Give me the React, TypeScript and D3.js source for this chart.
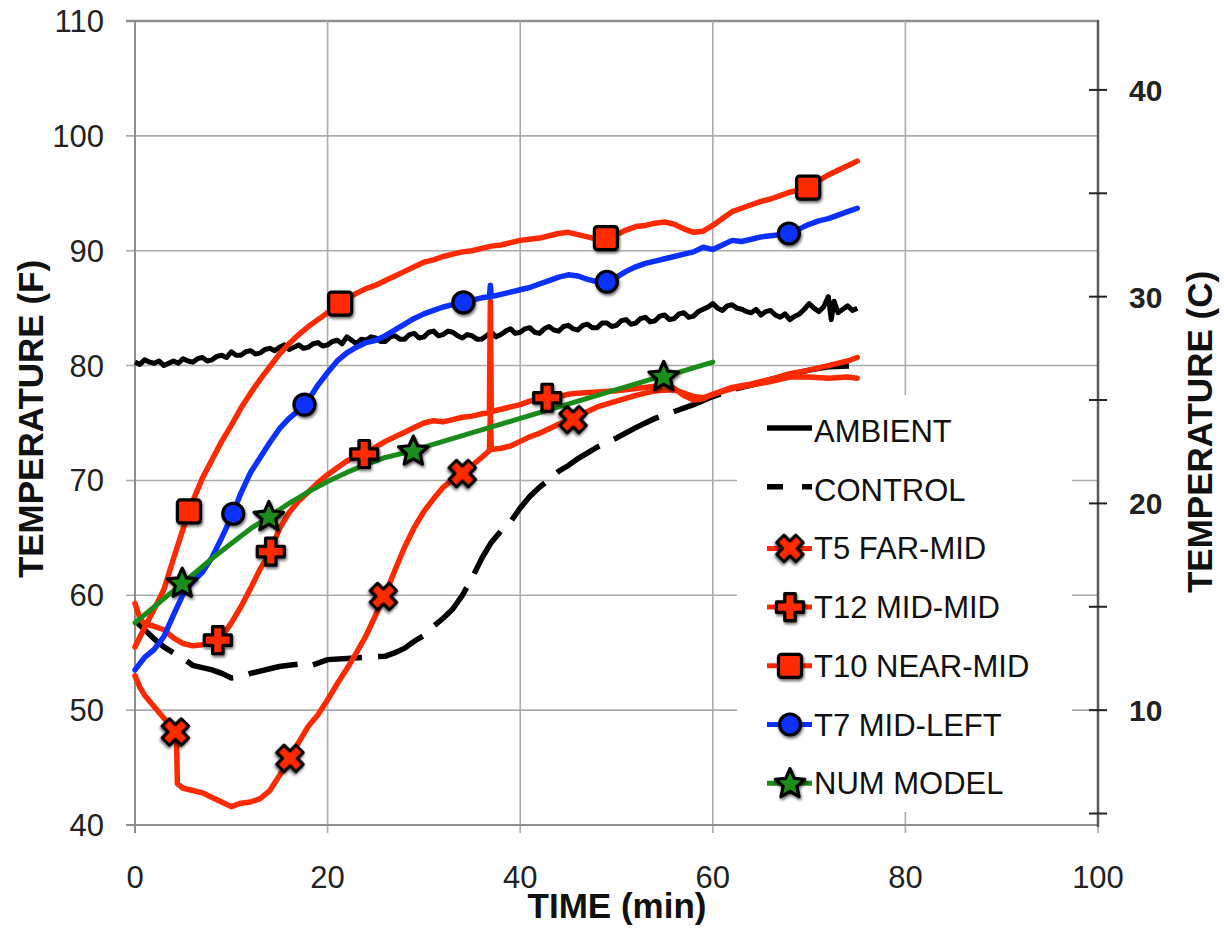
import React from 'react';
import * as d3 from 'd3';

const W = 1224;
const H = 931;

// ---------- axis ticks ----------
const xTicks = [0, 20, 40, 60, 80, 100];
const yTicks = [40, 50, 60, 70, 80, 90, 100, 110];
const cTicks = [5, 10, 15, 20, 25, 30, 35, 40];
const cLabels = [10, 20, 30, 40];

// ---------- series (time min, temperature F) ----------
const ambient: [number, number][] = [
  [0, 80.3], [0.5, 80.1], [1, 80.5], [1.5, 80.3], [2, 80.2], [2.5, 80.4], [3, 80.0], [3.5, 80.2], [4, 80.4], [4.5, 80.2],
  [5, 80.6], [5.5, 80.4], [6, 80.3], [6.5, 80.6], [7, 80.7], [7.5, 80.4], [8, 80.5], [8.5, 80.8], [9, 80.9], [9.5, 80.7],
  [10, 81.2], [10.5, 80.9], [11, 80.9], [11.5, 81.2], [12, 81.3], [12.5, 81.0], [13, 81.1], [13.5, 81.4], [14, 81.5], [14.5, 81.3],
  [15, 81.6], [15.5, 81.8], [16, 81.4], [16.5, 81.6], [17, 81.8], [17.5, 81.5], [18, 81.6], [18.5, 81.9], [19, 82.0], [19.5, 81.7],
  [20, 81.8], [20.5, 82.1], [21, 82.2], [21.5, 81.9], [22, 82.5], [22.5, 82.2], [23, 81.9], [23.5, 82.3], [24, 82.2], [24.5, 82.5],
  [25, 82.4], [25.5, 82.1], [26, 82.1], [26.5, 82.5], [27, 82.6], [27.5, 82.3], [28, 82.3], [28.5, 82.7], [29, 82.8], [29.5, 82.4],
  [30, 82.5], [30.5, 82.9], [31, 83.0], [31.5, 82.6], [32, 82.7], [32.5, 83.0], [33, 82.9], [33.5, 82.6], [34, 82.4], [34.5, 82.7],
  [35, 82.6], [35.5, 82.3], [36, 82.3], [36.5, 82.6], [37, 82.9], [37.5, 82.5], [38, 82.7], [38.5, 83.0], [39, 83.2], [39.5, 82.8],
  [40, 82.9], [40.5, 83.2], [41, 83.3], [41.5, 82.9], [42, 82.8], [42.5, 83.2], [43, 83.4], [43.5, 83.1], [44, 83.0], [44.5, 83.4],
  [45, 83.5], [45.5, 83.2], [46, 83.1], [46.5, 83.5], [47, 83.6], [47.5, 83.3], [48, 83.3], [48.5, 83.7], [49, 83.7], [49.5, 83.4],
  [50, 83.5], [50.5, 83.9], [51, 84.0], [51.5, 83.6], [52, 83.7], [52.5, 84.1], [53, 84.2], [53.5, 83.8], [54, 83.9], [54.5, 84.3],
  [55, 84.4], [55.5, 84.0], [56, 84.1], [56.5, 84.5], [57, 84.6], [57.5, 84.2], [58, 84.3], [58.5, 84.7], [59, 84.9], [59.5, 85.1],
  [60, 85.4], [60.5, 85.0], [61, 84.8], [61.5, 85.2], [62, 85.3], [62.5, 85.0], [63, 84.9], [63.5, 84.7], [64, 84.6], [64.5, 84.9],
  [65, 84.4], [65.5, 84.7], [66, 84.8], [66.5, 84.4], [67, 84.2], [67.5, 84.5], [68, 84.0], [68.5, 84.3], [69, 84.5], [69.5, 84.9],
  [70, 85.4], [70.5, 85.0], [71, 84.7], [71.5, 85.1], [72, 86.0], [72.3, 84.0], [72.6, 85.6], [73, 84.6], [73.5, 84.9], [74, 85.2],
  [74.5, 84.8], [75, 85.0],
];

const control: [number, number][] = [
  [0, 57.8], [1, 57.0], [2, 56.2], [3, 55.5], [4, 55.0], [5, 54.5], [6, 53.9], [7, 53.7], [8, 53.5], [9, 53.2],
  [10, 52.8], [11, 52.9], [12, 53.2], [13, 53.4], [14, 53.6], [15, 53.8], [16, 53.9], [17, 54.0], [18, 53.8], [19, 54.1],
  [20, 54.4], [22, 54.5], [24, 54.6], [26, 54.7], [27, 55.0], [28, 55.4], [29, 56.0], [30, 56.5], [31, 57.3], [32, 58.0],
  [33, 58.8], [34, 60.0], [35, 61.5], [36, 63.2], [37, 64.6], [38, 65.6], [39, 66.4], [40, 67.6], [41, 68.6], [42, 69.4],
  [43, 70.1], [44, 70.8], [45, 71.3], [46, 71.9], [47, 72.4], [48, 72.9], [49, 73.3], [50, 73.7], [52, 74.6], [54, 75.4],
  [56, 76.0], [58, 76.6], [60, 77.3], [62, 77.9], [64, 78.3], [66, 78.8], [68, 79.2], [70, 79.6], [72, 79.9], [75, 80.0],
];

const t5: [number, number][] = [
  [0, 53.0], [0.5, 52.0], [1, 51.3], [2, 50.3], [3, 49.3], [4, 48.4], [4.3, 47.6], [4.4, 43.6], [5, 43.2], [6, 43.0],
  [7, 42.8], [8, 42.4], [9, 42.0], [10, 41.6], [11, 41.9], [12, 42.0], [13, 42.3], [14, 43.0], [15, 44.3], [16, 45.7],
  [17, 47.2], [18, 48.6], [19, 49.6], [20, 50.9], [21, 52.3], [22, 53.6], [23, 55.0], [24, 56.5], [25, 58.3], [26, 60.1],
  [27, 62.2], [28, 64.2], [29, 65.9], [30, 67.3], [31, 68.4], [32, 69.4], [33, 70.1], [34, 70.6], [35, 71.3], [36, 72.0],
  [36.8, 72.6], [36.9, 75.9], [37, 72.7], [38, 72.8], [39, 73.0], [40, 73.4], [41, 73.8], [42, 74.1], [43, 74.5], [44, 74.9],
  [45, 75.2], [46, 75.6], [47, 76.0], [48, 76.4], [50, 76.9], [52, 77.4], [54, 77.8], [56, 77.9], [58, 77.3], [59, 77.2],
  [60, 77.5], [62, 78.0], [64, 78.3], [66, 78.6], [68, 79.0], [70, 79.0], [72, 78.9], [74, 79.0], [75, 78.9],
];

const t12: [number, number][] = [
  [0, 59.3], [0.5, 58.0], [1, 57.5], [2, 57.3], [3, 57.0], [4, 56.3], [5, 55.8], [6, 55.6], [7, 55.7], [8, 55.9],
  [8.6, 56.1], [9, 56.4], [10, 57.6], [11, 59.0], [12, 60.6], [13, 62.3], [14, 63.7], [15, 65.8], [16, 67.2], [17, 68.2],
  [18, 69.0], [19, 69.8], [20, 70.5], [21, 71.1], [22, 71.7], [23, 72.1], [24, 72.4], [25, 72.9], [26, 73.4], [27, 73.8],
  [28, 74.2], [29, 74.6], [30, 75.0], [31, 75.2], [32, 75.1], [33, 75.3], [34, 75.5], [35, 75.6], [36, 75.8], [36.8, 75.9],
  [36.9, 85.6], [37, 76.0], [38, 76.2], [39, 76.4], [40, 76.6], [41, 76.9], [42, 77.1], [43, 77.2], [44, 77.3], [45, 77.5],
  [46, 77.6], [48, 77.7], [50, 77.8], [52, 78.0], [54, 78.2], [55, 78.4], [56, 78.0], [57, 77.4], [58, 77.0], [59, 77.1],
  [60, 77.5], [62, 78.1], [64, 78.4], [66, 78.8], [68, 79.3], [70, 79.6], [72, 80.0], [74, 80.4], [75, 80.7],
];

const t10: [number, number][] = [
  [0, 55.5], [1, 57.2], [2, 58.8], [3, 60.5], [4, 63.2], [5, 65.8], [5.6, 67.3], [6, 68.2], [7, 70.2], [8, 71.8],
  [9, 73.4], [10, 74.8], [11, 76.3], [12, 77.6], [13, 78.8], [14, 79.9], [15, 81.0], [16, 81.9], [17, 82.7], [18, 83.4],
  [19, 84.0], [20, 84.6], [21, 85.2], [22, 85.8], [23, 86.3], [24, 86.7], [25, 87.0], [26, 87.4], [27, 87.8], [28, 88.2],
  [29, 88.6], [30, 89.0], [31, 89.2], [32, 89.5], [33, 89.7], [34, 89.9], [35, 90.0], [36, 90.2], [37, 90.4], [38, 90.5],
  [39, 90.7], [40, 90.9], [41, 91.0], [42, 91.1], [43, 91.3], [44, 91.5], [45, 91.6], [46, 91.4], [47, 91.2], [48, 91.0],
  [49, 91.1], [50, 91.4], [51, 91.8], [52, 92.1], [53, 92.2], [54, 92.4], [55, 92.5], [56, 92.3], [57, 91.9], [58, 91.6],
  [59, 91.7], [60, 92.2], [61, 92.8], [62, 93.4], [63, 93.7], [64, 94.0], [65, 94.3], [66, 94.5], [67, 94.8], [68, 95.1],
  [69, 95.3], [70, 95.6], [71, 96.1], [72, 96.6], [73, 97.0], [74, 97.4], [75, 97.8],
];

const t7: [number, number][] = [
  [0, 53.5], [1, 54.6], [2, 55.3], [3, 56.4], [4, 58.3], [5, 60.1], [6, 61.2], [7, 62.0], [8, 63.3], [9, 65.0],
  [10, 66.8], [11, 68.9], [12, 70.7], [13, 72.0], [14, 73.3], [15, 74.5], [16, 75.4], [17, 76.1], [18, 77.0], [19, 78.3],
  [20, 79.4], [21, 80.4], [22, 81.1], [23, 81.6], [24, 82.0], [25, 82.2], [26, 82.6], [27, 83.1], [28, 83.6], [29, 84.1],
  [30, 84.5], [31, 84.8], [32, 85.1], [33, 85.3], [34, 85.5], [35, 85.7], [36, 85.9], [36.8, 86.0], [36.9, 87.0], [37, 86.0],
  [38, 86.2], [39, 86.4], [40, 86.6], [41, 86.8], [42, 87.1], [43, 87.4], [44, 87.7], [45, 87.9], [46, 87.8], [47, 87.5],
  [48, 87.3], [49, 87.3], [50, 87.7], [51, 88.2], [52, 88.6], [53, 88.9], [54, 89.1], [55, 89.3], [56, 89.5], [57, 89.7],
  [58, 89.9], [59, 90.3], [60, 90.1], [61, 90.5], [62, 90.9], [63, 90.8], [64, 91.0], [65, 91.2], [66, 91.3], [67, 91.4],
  [68, 91.5], [69, 91.9], [70, 92.3], [71, 92.6], [72, 92.8], [73, 93.1], [74, 93.4], [75, 93.7],
];

const model: [number, number][] = [
  [0, 57.6], [2, 59.0], [4, 60.4], [5, 61.1], [6, 61.8], [8, 63.2], [10, 64.5], [12, 65.8], [14, 66.9], [16, 68.0],
  [18, 69.0], [20, 69.9], [22, 70.7], [24, 71.4], [26, 72.0], [28, 72.4], [29, 72.6], [30, 72.9], [32, 73.4], [34, 73.9],
  [36, 74.4], [38, 74.9], [40, 75.4], [42, 75.9], [44, 76.4], [46, 76.9], [48, 77.4], [50, 77.9], [52, 78.4], [54, 78.9],
  [55, 79.1], [56, 79.3], [58, 79.8], [60, 80.3],
];

// ---------- marker points ----------
const t5Markers: [number, number][] = [[4.2, 48.1], [16.1, 45.8], [25.8, 59.9], [34, 70.6], [45.5, 75.3]];
const t12Markers: [number, number][] = [[8.6, 56.1], [14.1, 63.8], [23.8, 72.3], [42.8, 77.2]];
const t10Markers: [number, number][] = [[5.6, 67.3], [21.3, 85.4], [48.9, 91.1], [69.9, 95.5]];
const t7Markers: [number, number][] = [[10.2, 67.1], [17.6, 76.6], [34.1, 85.5], [49, 87.3], [67.9, 91.5]];
const modelMarkers: [number, number][] = [[4.9, 61.1], [13.9, 66.9], [28.9, 72.6], [54.9, 79.1]];

const legendLabels = ['AMBIENT', 'CONTROL', 'T5 FAR-MID', 'T12 MID-MID', 'T10 NEAR-MID', 'T7 MID-LEFT', 'NUM MODEL'];

// ---------- style ----------
const RED = '#ff2a00';
const BLUE = '#0b30ff';
const GREEN = '#1b8c1b';
const GRID = '#ababab';
const FONT = '"Liberation Sans", Arial, Helvetica, sans-serif';

const x = d3.scaleLinear().domain([0, 100]).range([135, 1098]);
const y = d3.scaleLinear().domain([40, 110]).range([825, 21]);
const fToC = (f: number) => ((f - 32) * 5) / 9;
const c = d3.scaleLinear().domain([fToC(40), fToC(110)]).range([825, 21]);

const line = d3
  .line<[number, number]>()
  .x((d) => x(d[0]))
  .y((d) => y(d[1]));

const plusPath = (r: number, a: number) =>
  `M${-a},${-r}H${a}V${-a}H${r}V${a}H${a}V${r}H${-a}V${a}H${-r}V${-a}H${-a}Z`;

const starPath = (() => {
  const pts: [number, number][] = [];
  for (let k = 0; k < 10; k++) {
    const r = k % 2 === 0 ? 15.5 : 7.2;
    const a = (Math.PI / 5) * k - Math.PI / 2;
    pts.push([r * Math.cos(a), r * Math.sin(a)]);
  }
  return 'M' + pts.map((p) => p.join(',')).join('L') + 'Z';
})();

type Kind = 'x' | 'plus' | 'square' | 'circle' | 'star';

function Marker({ kind, cx, cy }: { kind: Kind; cx: number; cy: number }) {
  const common = { stroke: '#000', strokeWidth: 3.2, strokeLinejoin: 'round' as const, filter: 'url(#shadow)' };
  if (kind === 'x')
    return <path d={plusPath(13.5, 5.2)} transform={`translate(${cx},${cy}) rotate(45)`} fill={RED} {...common} />;
  if (kind === 'plus') return <path d={plusPath(13.5, 5.2)} transform={`translate(${cx},${cy})`} fill={RED} {...common} />;
  if (kind === 'square')
    return <rect x={cx - 11.5} y={cy - 11.5} width={23} height={23} rx={3} fill={RED} {...common} />;
  if (kind === 'circle') return <circle cx={cx} cy={cy} r={10.5} fill={BLUE} {...common} />;
  return <path d={starPath} transform={`translate(${cx},${cy + 1})`} fill={GREEN} {...common} />;
}

export default function App() {
  const series = [
    { data: t5, color: RED, kind: 'x' as Kind, markers: t5Markers },
    { data: t12, color: RED, kind: 'plus' as Kind, markers: t12Markers },
    { data: t10, color: RED, kind: 'square' as Kind, markers: t10Markers },
    { data: t7, color: BLUE, kind: 'circle' as Kind, markers: t7Markers },
    { data: model, color: GREEN, kind: 'star' as Kind, markers: modelMarkers },
  ];

  const legendX0 = 767;
  const legendX1 = 812;
  const legendY0 = 431;
  const legendStep = 58.7;

  return (
    <svg width={W} height={H} style={{ position: 'absolute', left: 0, top: 0, background: '#fff' }} fontFamily={FONT}>
      <defs>
        <filter id="shadow" x="-60%" y="-60%" width="220%" height="220%">
          <feDropShadow dx="1" dy="2" stdDeviation="1.6" floodColor="#000" floodOpacity="0.6" />
        </filter>
      </defs>
      <rect x={0} y={0} width={W} height={H} fill="#fff" />

      {/* gridlines */}
      {yTicks.map((t) => (
        <line key={'gy' + t} x1={126} x2={1098} y1={y(t)} y2={y(t)} stroke={t === 110 ? '#8e8e8e' : GRID} strokeWidth={t === 110 ? 2.5 : 1.6} />
      ))}
      {xTicks.map((t) => (
        <line key={'gx' + t} x1={x(t)} x2={x(t)} y1={21} y2={833} stroke={GRID} strokeWidth={1.6} />
      ))}
      {/* axes */}
      <line x1={x(0)} x2={x(0)} y1={21} y2={833} stroke="#8e8e8e" strokeWidth={2} />
      <line x1={126} x2={1098} y1={y(40)} y2={y(40)} stroke="#8e8e8e" strokeWidth={2} />
      <line x1={1098} x2={1098} y1={20} y2={827} stroke="#5a5a5a" strokeWidth={2.5} />
      {cTicks.map((t) => (
        <line key={'ct' + t} x1={1089} x2={1107} y1={c(t)} y2={c(t)} stroke="#222" strokeWidth={2} />
      ))}

      {/* tick labels */}
      {yTicks.map((t) => (
        <text key={'ly' + t} x={104} y={y(t) + 11} fontSize={31} textAnchor="end" fill="#222">
          {t}
        </text>
      ))}
      {xTicks.map((t) => (
        <text key={'lx' + t} x={x(t)} y={888} fontSize={31} textAnchor="middle" fill="#222">
          {t}
        </text>
      ))}
      {cLabels.map((t) => (
        <text key={'lc' + t} x={1129} y={c(t) + 11} fontSize={30} fontWeight="bold" fill="#222">
          {t}
        </text>
      ))}

      {/* axis titles */}
      <text transform="translate(43,419) rotate(-90)" fontSize={35} fontWeight="bold" textAnchor="middle" fill="#111">
        TEMPERATURE (F)
      </text>
      <text transform="translate(1212,432) rotate(-90)" fontSize={35} fontWeight="bold" textAnchor="middle" fill="#111">
        TEMPERATURE (C)
      </text>
      <text x={617} y={918} fontSize={35} fontWeight="bold" textAnchor="middle" fill="#111">
        TIME (min)
      </text>

      {/* lines */}
      <path d={line(ambient) as string} fill="none" stroke="#000" strokeWidth={5} strokeLinejoin="round" />
      <path d={line(control) as string} fill="none" stroke="#000" strokeWidth={5.5} strokeDasharray="50 16" />
      {series.map((s, i) => (
        <path key={'s' + i} d={line(s.data) as string} fill="none" stroke={s.color} strokeWidth={s.color === GREEN ? 5 : 5.5} strokeLinejoin="round" strokeLinecap="round" />
      ))}
      {/* markers */}
      {series.map((s, i) =>
        s.markers.map((m, j) => <Marker key={`m${i}-${j}`} kind={s.kind} cx={x(m[0])} cy={y(m[1])} />)
      )}

      {/* legend */}
      <rect x={737} y={395} width={335} height={417} fill="#fff" />
      {legendLabels.map((lab, i) => {
        const ly = legendY0 + i * legendStep;
        let sym: React.ReactNode;
        if (i === 0) sym = <line x1={legendX0} x2={legendX1} y1={ly - 3} y2={ly - 3} stroke="#000" strokeWidth={5.5} />;
        else if (i === 1)
          sym = <line x1={legendX0} x2={legendX1} y1={ly - 3} y2={ly - 3} stroke="#000" strokeWidth={5.5} strokeDasharray="16 19" />;
        else {
          const s = series[i - 2];
          sym = (
            <g>
              <line x1={legendX0} x2={legendX1} y1={ly} y2={ly} stroke={s.color} strokeWidth={5} />
              <Marker kind={s.kind} cx={790} cy={ly} />
            </g>
          );
        }
        return (
          <g key={'lg' + i}>
            {sym}
            <text x={814} y={ly + 11} fontSize={31} fill="#111">
              {lab}
            </text>
          </g>
        );
      })}
    </svg>
  );
}
